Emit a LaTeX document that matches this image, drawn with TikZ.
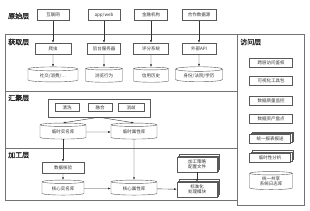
\documentclass[tikz,border=0pt]{standalone}
\usepackage{fontspec}
\setmainfont{Noto Sans CJK SC}[AutoFakeBold=1.5]
\usetikzlibrary{shapes.geometric,shadows,arrows.meta}

\begin{document}
\begin{tikzpicture}[x=1pt,y=-1pt,
	box/.style={draw=black!65, fill=white, minimum height=11pt, inner sep=0pt, font=\fontsize{4.5}{5.5}\selectfont, text=black!80},
	stackbox/.style={box, align=center, double copy shadow={shadow xshift=1.3pt, shadow yshift=1.3pt, draw=black!65, fill=white}},
	db/.style={cylinder, shape border rotate=90, aspect=0.15, draw=black!65, fill=white, inner sep=0pt, minimum height=15pt, align=center, font=\fontsize{4.5}{5.5}\selectfont, text=black!80},
	layer/.style={anchor=west, inner sep=0pt, font=\fontsize{7}{8}\selectfont\bfseries, text=black!85},
	frame/.style={draw=black!55, line width=0.6pt},
	arr/.style={-{Latex[length=2.6pt,width=2pt]}, draw=black!80, line width=0.4pt}]
	\useasboundingbox (0,0) rectangle (310,210);
	% frames
	\draw[frame] (5,34) rectangle (237,200);
	\draw[frame] (5,91) -- (237,91);
	\draw[frame] (5,148) -- (237,148);
	\draw[frame] (237,34) rectangle (304,205);
	% layer names
	\node[layer] (lraw) at (8,16) {原始层};
	\node[layer] (lget) at (8,42) {获取层};
	\node[layer] (lagg) at (8,98) {汇聚层};
	\node[layer] (lproc) at (8,155) {加工层};
	\node[layer] (lacc) at (240,42) {访问层};
	% raw sources
	\node[box, minimum width=32pt] (raw1) at (53,15) {互联网};
	\node[box, minimum width=32pt] (raw2) at (104,15) {app/web};
	\node[box, minimum width=33pt] (raw3) at (151,15) {金融机构};
	\node[box, minimum width=34pt] (raw4) at (199,15) {合作数据源};
	% collection
	\node[box, minimum width=36pt] (get1) at (53,48.5) {爬虫};
	\node[box, minimum width=33pt] (get2) at (104,48.5) {后台服务器};
	\node[box, minimum width=35pt] (get3) at (151,48.5) {评分系统};
	\node[box, minimum width=34pt] (get4) at (199,48.5) {外部API};
	\node[db, minimum width=50pt] (src1) at (53,75.5) {社交/消费/…};
	\node[db, minimum width=37pt] (src2) at (104,75.5) {浏览行为};
	\node[db, minimum width=35pt] (src3) at (151,75.5) {信用历史};
	\node[db, minimum width=47pt] (src4) at (199,75.5) {身份/法院/学历};
	\foreach \i in {1,...,4}{
		\draw[arr] (raw\i) -- (get\i);
		\draw[arr] (get\i) -- (src\i);
	}
	% aggregation
	\node[box, minimum width=102pt, minimum height=18pt] (merge) at (99,108) {};
	\node[box, minimum width=24pt, minimum height=8pt] (clean) at (67,107.5) {清洗};
	\node[box, minimum width=24pt, minimum height=8pt] (fuse) at (100,107.5) {融合};
	\node[box, minimum width=26pt, minimum height=8pt] (disamb) at (131,107.5) {消歧};
	\node[db, minimum width=46pt, minimum height=16pt] (tmpname) at (63,132) {临时实名库};
	\node[db, minimum width=46pt, minimum height=16pt] (tmpattr) at (134,132) {临时属性库};
	\draw[arr] (merge.south) -- (tmpname.north);
	\draw[arr] (merge.south) -- (tmpattr.north);
	\draw[arr] (tmpname) -- (tmpattr);
	% processing
	\node[box, minimum width=42pt] (check) at (63,167.5) {数据核验};
	\node[db, minimum width=42pt] (corename) at (63,188.5) {核心实名库};
	\node[db, minimum width=46pt] (coreattr) at (134,188.5) {核心属性库};
	\node[stackbox, minimum width=40pt, minimum height=15pt] (conf) at (197,164.5) {加工策略\\配置文件};
	\node[stackbox, minimum width=40pt, minimum height=15pt] (std) at (197,189.5) {标准化\\处理模块};
	\draw[arr] (tmpname) -- (check);
	\draw[arr] (check) -- (corename);
	\draw[arr] (tmpattr) -- (coreattr);
	\draw[arr] (corename) -- (coreattr);
	\draw[arr] (coreattr) -- (std);
	\draw[arr] (conf) -- (std);
	% access
	\node[box, minimum width=43pt, minimum height=9pt] (acc1) at (271,63) {跨层访问鉴权};
	\node[box, minimum width=43pt, minimum height=9pt] (acc2) at (271,81) {可视化工具包};
	\node[box, minimum width=43pt, minimum height=9pt] (acc3) at (271,101) {数据质量监控};
	\node[box, minimum width=43pt, minimum height=9pt] (acc4) at (271,119) {数据资产盘点};
	\node[stackbox, minimum width=41pt, minimum height=9pt] (acc5) at (270,139) {统一报表报送};
	\node[stackbox, minimum width=41pt, minimum height=9pt] (acc6) at (270,157.5) {临时性分析};
	\node[db, minimum width=43pt, minimum height=18pt] (logdb) at (271,181.5) {统一共享\\系统日志库};
\end{tikzpicture}
\end{document}
